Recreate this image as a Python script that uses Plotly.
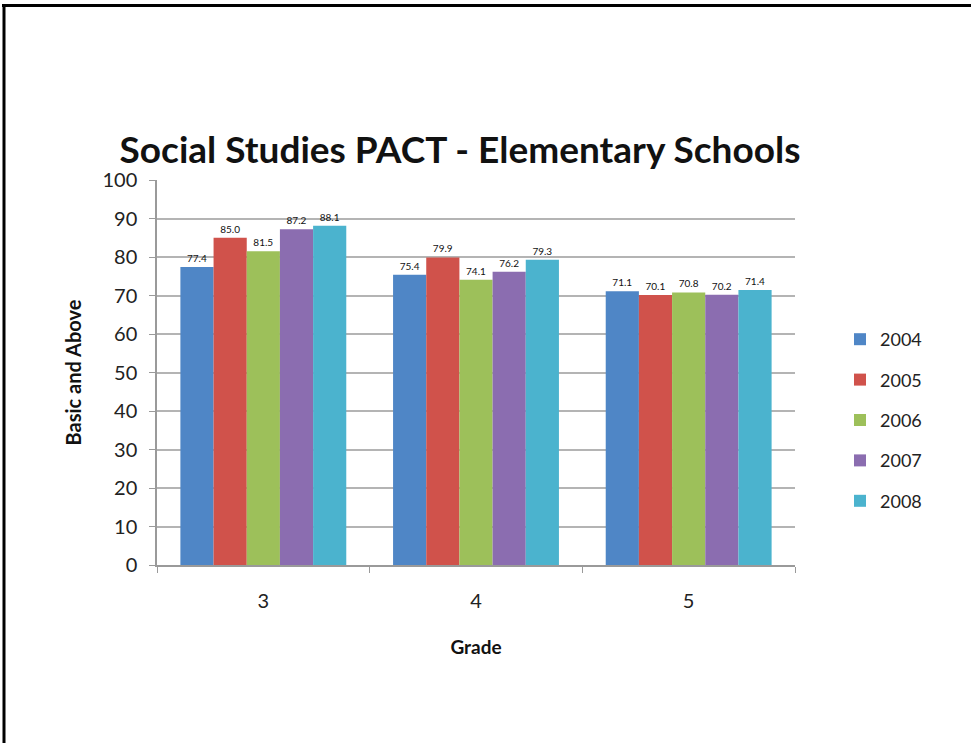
import plotly.graph_objects as go

grades = ["3", "4", "5"]
years = ["2004", "2005", "2006", "2007", "2008"]
v2004 = [77.4, 75.4, 71.1]
v2005 = [85.0, 79.9, 70.1]
v2006 = [81.5, 74.1, 70.8]
v2007 = [87.2, 76.2, 70.2]
v2008 = [88.1, 79.3, 71.4]
series = [v2004, v2005, v2006, v2007, v2008]
colors = ["#4F86C6", "#D0524B", "#9DC05A", "#8B6DB0", "#4BB3CE"]
y_ticks = [0, 10, 20, 30, 40, 50, 60, 70, 80, 90, 100]

FONT = "Lato, Carlito, Open Sans, sans-serif"

fig = go.Figure()
for i, (yr, vals) in enumerate(zip(years, series)):
    fig.add_trace(go.Bar(
        x=grades, y=vals, name=yr,
        marker=dict(color=colors[i], line=dict(width=0)),
        text=[f"{v:.1f}" for v in vals], textposition="outside",
        textfont=dict(size=10, color="#111111", family=FONT),
        cliponaxis=False, legendgroup=yr,
    ))

W, H = 971, 743
L, R, T, B = 157, 176, 180, 178
pw = W - L - R
ph = H - T - B

def px_x(x):
    return (x - L) / pw

def px_y(y):
    return (H - B - y) / ph

fig.update_layout(
    width=W, height=H,
    margin=dict(l=L, r=R, t=T, b=B, autoexpand=False),
    paper_bgcolor="white", plot_bgcolor="white",
    barmode="group", bargap=0.22, bargroupgap=0,
    font=dict(family=FONT, color="#222222"),
    title=dict(text="<b>Social Studies PACT - Elementary Schools</b>",
               x=460 / W, xanchor="center", y=1 - 150 / H, yanchor="middle",
               font=dict(size=37, color="#111111", family=FONT)),
    showlegend=True,
    legend=dict(x=px_x(840), xanchor="left", y=px_y(321), yanchor="top",
                font=dict(size=18, color="#222222", family=FONT),
                tracegroupgap=14, itemwidth=30, bgcolor="rgba(0,0,0,0)"),
    xaxis=dict(
        showgrid=False, showline=True, linecolor="#9a9a9a", linewidth=1.5,
        ticks="outside", tickson="boundaries", ticklen=6, tickcolor="#9a9a9a",
        tickfont=dict(size=20, color="#222222"), ticklabelstandoff=17,
        title=dict(text="<b>Grade</b>", font=dict(size=19, color="#111111"), standoff=30),
    ),
    yaxis=dict(
        range=[0, 100], tickvals=y_ticks, showgrid=True, gridcolor="#b4b4b4", gridwidth=1.5,
        showline=True, linecolor="#9a9a9a", linewidth=1.5, zeroline=False,
        ticks="outside", ticklen=6, tickcolor="#9a9a9a",
        tickfont=dict(size=20, color="#222222"), ticklabelstandoff=8,
        title=dict(text="<b>Basic and Above</b>", font=dict(size=20, color="#111111"), standoff=15),
    ),
    shapes=[
        dict(type="line", xref="paper", yref="paper", x0=px_x(2), x1=px_x(W + 2),
             y0=px_y(5.5), y1=px_y(5.5), line=dict(color="black", width=3)),
        dict(type="line", xref="paper", yref="paper", x0=px_x(4), x1=px_x(4),
             y0=px_y(4), y1=px_y(H + 2), line=dict(color="black", width=3)),
    ],
)

fig.write_html("out.html")
